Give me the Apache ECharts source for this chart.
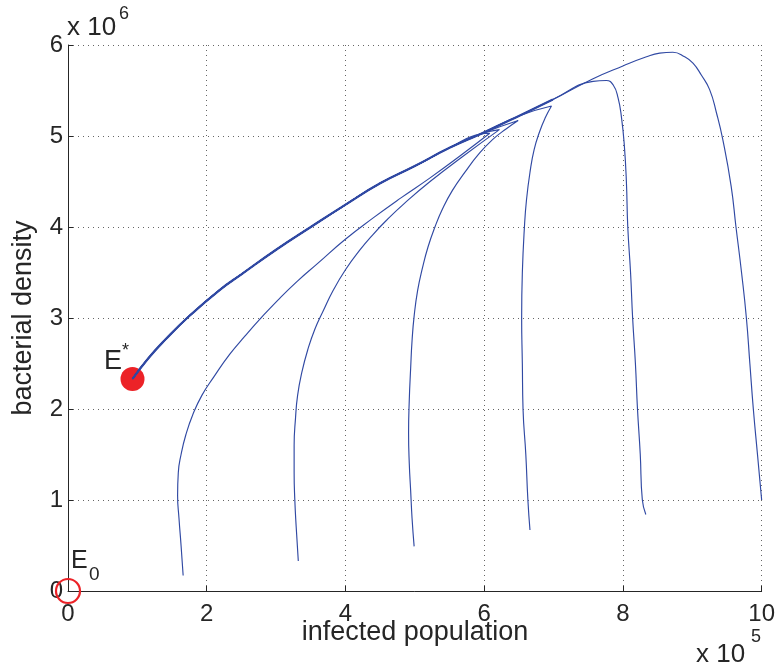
<!DOCTYPE html>
<html>
<head>
<meta charset="utf-8">
<script src="https://cdn.jsdelivr.net/npm/echarts@6/dist/echarts.min.js"></script>
<style>
html,body{margin:0;padding:0;background:#fff;}
#chart{width:778px;height:672px;}
</style>
</head>
<body>
<div id="chart"></div>
<script>
// values in units of 1e5 (x) and 1e6 (y)
const xTicks = [0, 2, 4, 6, 8, 10];
const yTicks = [0, 1, 2, 3, 4, 5, 6];
const equilibriumStar = [[0.93, 2.33]];
const equilibriumZero = [[0, 0]];

// common slow path back to E*
const returnPath = [[6.99,5.40],[6.5,5.22],[5.94,5.02],[5.5,4.87],[5.0,4.67],[4.5,4.48],[3.99,4.24],[3.5,4.0],[3.0,3.75],[2.5,3.48],[2.19,3.31],[1.76,3.03],[1.4,2.76],[1.15,2.55],[0.93,2.33]];

const traj1 = [[1.66,0.17],[1.63,0.5],[1.60,0.8],[1.58,1.05],[1.59,1.3],[1.63,1.5],[1.70,1.72],[1.80,1.94],[1.93,2.15],[2.1,2.35],[2.33,2.6],[2.55,2.8],[2.77,2.99],[3.03,3.2],[3.3,3.4],[3.6,3.6],[3.99,3.86],[4.4,4.1],[4.8,4.32],[5.22,4.54],[5.65,4.78],[6.08,5.03]];
const traj2 = [[3.32,0.33],[3.29,0.7],[3.27,1.0],[3.26,1.3],[3.26,1.6],[3.28,1.9],[3.31,2.15],[3.37,2.4],[3.46,2.66],[3.56,2.88],[3.68,3.08],[3.82,3.3],[4.0,3.53],[4.2,3.74],[4.4,3.92],[4.6,4.08],[4.85,4.26],[5.22,4.5],[5.7,4.78],[6.22,5.07]];
const traj3 = [[4.99,0.49],[4.96,0.8],[4.94,1.1],[4.92,1.4],[4.91,1.73],[4.92,2.1],[4.94,2.45],[4.96,2.75],[4.99,3.02],[5.04,3.3],[5.11,3.55],[5.19,3.78],[5.29,4.0],[5.4,4.2],[5.54,4.4],[5.72,4.6],[5.92,4.8],[6.12,4.96],[6.32,5.08],[6.49,5.17]];
const traj4 = [[6.66,0.67],[6.63,1.0],[6.6,1.5],[6.56,2.0],[6.55,2.5],[6.54,3.0],[6.55,3.5],[6.58,4.0],[6.61,4.3],[6.66,4.6],[6.72,4.85],[6.8,5.05],[6.88,5.2],[6.97,5.33]];
const traj5 = [[8.33,0.84],[8.28,1.0],[8.25,1.5],[8.21,2.0],[8.18,2.5],[8.14,3.0],[8.11,3.5],[8.07,4.0],[8.05,4.5],[8.02,4.9],[7.98,5.2],[7.93,5.42],[7.86,5.56],[7.76,5.61],[7.57,5.60]];
const traj6 = [[10,1.0],[9.94,1.5],[9.88,2.0],[9.83,2.5],[9.78,3.0],[9.71,3.5],[9.63,4.0],[9.56,4.45],[9.44,4.96],[9.35,5.25],[9.25,5.51],[9.13,5.67],[9.01,5.80],[8.89,5.87],[8.72,5.92],[8.53,5.91],[8.34,5.87],[8.0,5.77],[7.57,5.63]];

const trajectories = [traj1, traj2, traj3, traj4, traj5, traj6];

function fullPath(up) {
  const lastX = up[up.length - 1][0];
  return up.concat(returnPath.filter(p => p[0] < lastX));
}

const FONT = '"Liberation Sans", Arial, Helvetica, sans-serif';
const TXT = '#262626';
const LINE = '#3049a3';
const RED = '#ec2227';

const chart = echarts.init(document.getElementById('chart'), null, {renderer: 'canvas'});

const series = [
  {
    type: 'scatter', data: equilibriumStar, symbol: 'circle', symbolSize: 24,
    itemStyle: {color: RED, opacity: 1}, z: 1, silent: true
  },
  {
    type: 'scatter', data: equilibriumZero, symbol: 'circle', symbolSize: 24,
    itemStyle: {color: 'rgba(0,0,0,0)', borderColor: RED, borderWidth: 2.2, opacity: 1}, z: 1, silent: true
  },
  {
    // the bundle of overlapping returning trajectories
    type: 'line', data: returnPath, showSymbol: false, smooth: 0.5,
    lineStyle: {color: LINE, width: 2.2}, z: 3, silent: true
  }
];
trajectories.forEach(t => {
  series.push({
    type: 'line', data: fullPath(t), showSymbol: false, smooth: 0.5,
    lineStyle: {color: LINE, width: 1.15}, z: 3, silent: true, clip: false
  });
});

chart.setOption({
  animation: false,
  backgroundColor: '#fff',
  grid: {left: 68, right: 16, top: 45, bottom: 81, containLabel: false},
  xAxis: {
    type: 'value', min: 0, max: 10, interval: 2,
    axisLine: {show: true, onZero: false, lineStyle: {color: TXT, width: 1}},
    axisTick: {show: true, inside: true, length: 5, lineStyle: {color: TXT}},
    axisLabel: {color: TXT, fontSize: 24, fontFamily: FONT, margin: 11,
      formatter: v => xTicks.includes(v) ? String(v) : ''},
    splitLine: {show: true, lineStyle: {color: '#666', width: 1, type: [1, 4]}}
  },
  yAxis: {
    type: 'value', min: 0, max: 6, interval: 1,
    axisLine: {show: true, onZero: false, lineStyle: {color: TXT, width: 1}},
    axisTick: {show: true, inside: true, length: 5, lineStyle: {color: TXT}},
    axisLabel: {color: TXT, fontSize: 24, fontFamily: FONT, margin: 5,
      formatter: v => yTicks.includes(v) ? String(v) : ''},
    splitLine: {show: true, lineStyle: {color: '#666', width: 1, type: [1, 4]}}
  },
  graphic: [
    {type: 'text', x: 415, y: 633, style: {text: 'infected population', font: '27px ' + FONT, fill: TXT, align: 'center', verticalAlign: 'middle'}},
    {type: 'text', x: 24, y: 318, rotation: Math.PI / 2, style: {text: 'bacterial density', font: '27px ' + FONT, fill: TXT, align: 'center', verticalAlign: 'middle'}},
    {type: 'text', x: 67, y: 28, style: {text: 'x 10', font: '26px ' + FONT, fill: TXT, align: 'left', verticalAlign: 'middle'}},
    {type: 'text', x: 119, y: 14, style: {text: '6', font: '18px ' + FONT, fill: TXT, align: 'left', verticalAlign: 'middle'}},
    {type: 'text', x: 696, y: 655, style: {text: 'x 10', font: '26px ' + FONT, fill: TXT, align: 'left', verticalAlign: 'middle'}},
    {type: 'text', x: 751, y: 637, style: {text: '5', font: '18px ' + FONT, fill: TXT, align: 'left', verticalAlign: 'middle'}},
    {type: 'text', x: 104, y: 362, style: {text: 'E', font: '27px ' + FONT, fill: TXT, align: 'left', verticalAlign: 'middle'}},
    {type: 'text', x: 122, y: 351, style: {text: '*', font: '18px ' + FONT, fill: TXT, align: 'left', verticalAlign: 'middle'}},
    {type: 'text', x: 71, y: 561, style: {text: 'E', font: '25px ' + FONT, fill: TXT, align: 'left', verticalAlign: 'middle'}},
    {type: 'text', x: 89, y: 575, style: {text: '0', font: '19px ' + FONT, fill: TXT, align: 'left', verticalAlign: 'middle'}}
  ],
  series: series
});
</script>
</body>
</html>
